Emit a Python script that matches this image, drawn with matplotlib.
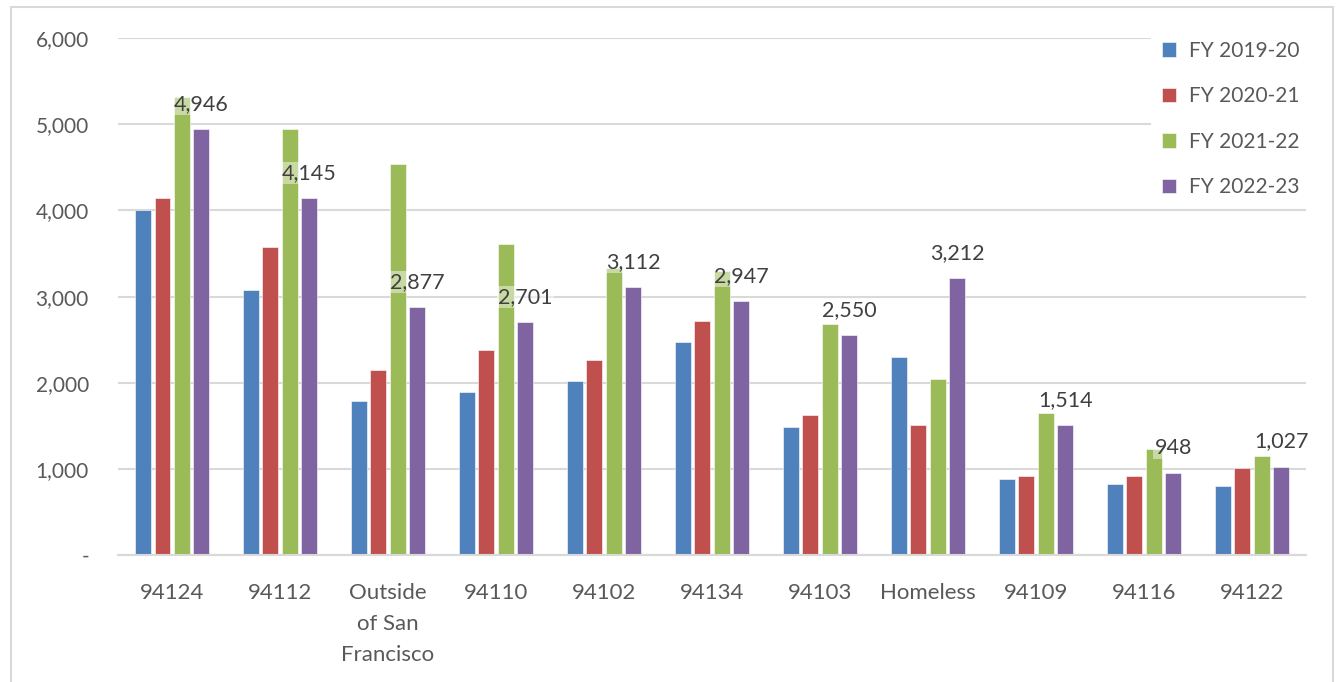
import matplotlib.pyplot as plt
import matplotlib.patches as mpatches
import numpy as np
from matplotlib.ticker import FuncFormatter

# Clients by ZIP code, four fiscal years
categories = ['94124', '94112', 'Outside\nof San\nFrancisco', '94110', '94102', '94134',
              '94103', 'Homeless', '94109', '94116', '94122']
series_names = ['FY 2019-20', 'FY 2020-21', 'FY 2021-22', 'FY 2022-23']
fy2019 = [4010, 3075, 1790, 1895, 2020, 2470, 1485, 2298, 882, 824, 800]
fy2020 = [4140, 3575, 2150, 2380, 2260, 2715, 1625, 1509, 917, 917, 1010]
fy2021 = [5315, 4945, 4540, 3610, 3330, 3295, 2680, 2042, 1648, 1230, 1149]
fy2022 = [4946, 4145, 2877, 2701, 3112, 2947, 2550, 3212, 1514, 948, 1027]
colors = ['#4F81BD', '#C0504D', '#9BBB59', '#8064A2']

plt.rcParams['font.family'] = ['Lato', 'DejaVu Sans']

fig = plt.figure(figsize=(13.37, 6.82), dpi=100)
ax = fig.add_axes([0.0883, 0.1862, 0.8885, 0.7578])

x = np.arange(len(categories))
pitch = 0.18
bw = 0.145
all_series = [fy2019, fy2020, fy2021, fy2022]
for i, (vals, c) in enumerate(zip(all_series, colors)):
    ax.bar(x + (i - 1.5) * pitch, vals, width=bw, color=c, zorder=2,
           label=series_names[i], edgecolor='white', linewidth=0.4)

# value labels on the latest year, with a translucent white box behind them
for xi, v in zip(x + 1.5 * pitch, fy2022):
    ax.annotate(f'{v:,}', xy=(xi, v), xytext=(0, 18), textcoords='offset points',
                ha='center', va='center', fontsize=15.5, color='#404040', zorder=5,
                bbox=dict(boxstyle='square,pad=0.05', fc='white', ec='none', alpha=0.45))

ax.set_xlim(-0.5, len(categories) - 0.5)
ax.set_ylim(0, 6000)
ax.set_yticks(np.arange(0, 6001, 1000))
ax.yaxis.set_major_formatter(FuncFormatter(lambda v, p: '-' if v == 0 else f'{int(v):,}'))
ax.set_xticks(x)
ax.set_xticklabels(categories, linespacing=1.7)
ax.tick_params(axis='both', length=0, colors='#595959')
ax.tick_params(axis='y', pad=21, labelsize=15)
ax.tick_params(axis='x', pad=20, labelsize=16)
ax.grid(axis='y', color='#D9D9D9', linewidth=1.5, zorder=0)
ax.set_axisbelow(True)
for s in ['top', 'right', 'left']:
    ax.spines[s].set_visible(False)
ax.spines['bottom'].set_color('#D9D9D9')
ax.spines['bottom'].set_linewidth(1.5)

leg = ax.legend(loc='upper right', bbox_to_anchor=(1.012, 1.035), frameon=True,
                fontsize=15, labelcolor='#595959', handlelength=0.7, handleheight=0.7,
                handletextpad=0.6, labelspacing=1.22, borderpad=0.5, fancybox=False)
leg.get_frame().set_edgecolor('none')
leg.get_frame().set_facecolor('white')
leg.get_frame().set_alpha(1)
leg.set_zorder(6)

# chart border
fig.patches.append(mpatches.Rectangle((11 / 1337, -0.02), 1322 / 1337, 1.0 - 7 / 682 + 0.02,
                                      transform=fig.transFigure, fill=False,
                                      edgecolor='#D9D9D9', linewidth=1.5))

fig.savefig('out.png', dpi=100)
